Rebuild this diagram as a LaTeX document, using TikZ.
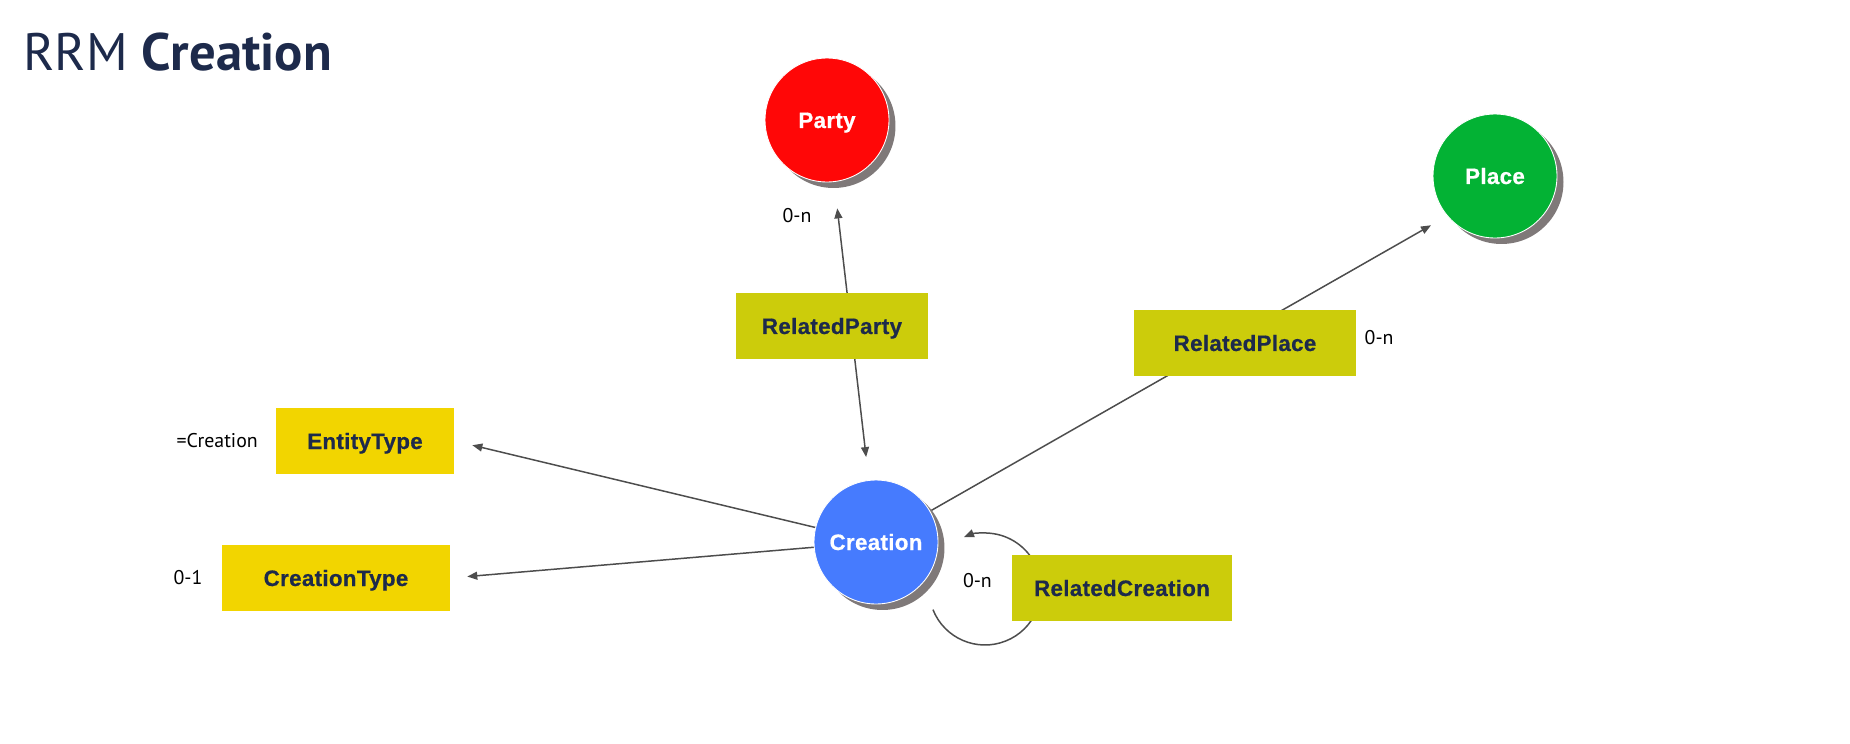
\documentclass[tikz,border=0pt]{standalone}
\usepackage{fontspec}
\setmainfont{PT Sans}
\newfontfamily\boxfont{Liberation Sans}[LetterSpace=1.5, BoldFeatures={FakeBold=0.6}]
\usetikzlibrary{positioning,arrows.meta,shadows,backgrounds}

\definecolor{partyred}{HTML}{FF0707}
\definecolor{placegreen}{HTML}{03B234}
\definecolor{creationblue}{HTML}{467BFE}
\definecolor{shadowgrey}{HTML}{7F7979}
\definecolor{relolive}{HTML}{CCCC0B}
\definecolor{typeyellow}{HTML}{F2D500}
\definecolor{rrmnavy}{HTML}{1D2A4B}
\definecolor{linegrey}{HTML}{4D4D4D}

\tikzset{
entity/.style={circle, minimum size=2.48cm, inner sep=0pt, outer sep=0pt, draw=white, line width=0.5pt, text=white,
  text height=9.1pt, text depth=0pt,
  font=\boxfont\bfseries\fontsize{12.7pt}{15pt}\selectfont,
  drop shadow={shadow xshift=0.13cm, shadow yshift=-0.12cm, opacity=1, fill=shadowgrey, draw=none}},
box/.style={rectangle, inner sep=0pt, text=rrmnavy, minimum height=1.31cm,
  text height=9.1pt, text depth=0pt,
  font=\boxfont\bfseries\fontsize{12.7pt}{15pt}\selectfont},
relbox/.style={box, fill=relolive},
typebox/.style={box, fill=typeyellow},
card/.style={inner sep=0pt, text=black, font=\fontsize{11.3pt}{13pt}\selectfont},
link/.style={draw=linegrey, line width=0.85pt, >={Triangle[length=5.7pt,width=4.5pt]}},
arrow/.style={link, ->}
}

\begin{document}
\begin{tikzpicture}[x=0.02cm, y=-0.02cm]
\useasboundingbox (0,0) rectangle (1850,744);

\node[anchor=base west, inner sep=0pt, text=rrmnavy, font=\fontsize{30pt}{36pt}\selectfont] (title) at (23,70) {RRM \textbf{Creation}};

% main entities
\node[entity, fill=partyred] (party) at (827,120) {Party};
\node[entity, fill=placegreen] (place) at (1495,176) {Place};
\node[entity, fill=creationblue] (creation) at (876,542) {Creation};

% relation boxes
\node[relbox, minimum width=3.86cm] (relparty) at (832,326) {RelatedParty};
\node[relbox, minimum width=4.44cm] (relplace) at (1245,343) {RelatedPlace};
\node[relbox, minimum width=4.42cm] (relcreation) at (1122,588) {RelatedCreation};
\node[typebox, minimum width=3.58cm] (enttype) at (365,441) {EntityType};
\node[typebox, minimum width=4.56cm] (crtype) at (336,578) {CreationType};

% cardinalities
\node[card] (partycard) at (797,216) {0-n};
\node[card, right=0.16cm of relplace, yshift=0.1cm] (placecard) {0-n};
\node[card, left=0.38cm of relcreation, yshift=0.14cm] (loopcard) {0-n};
\node[card, left=0.34cm of enttype] (entcard) {=Creation};
\node[card, left=0.38cm of crtype] (crcard) {0-1};

\begin{scope}[on background layer]
\draw[link, <->, shorten <=0.54cm, shorten >=0.47cm] (party) -- (creation);
\draw[arrow, shorten >=0.38cm] (creation) -- (place.220);
\draw[arrow, shorten >=0.36cm] (creation) -- (enttype.east);
\draw[arrow, shorten >=0.34cm] (creation) -- (crtype.east);
\coordinate (loopc) at (985,589);
\draw[arrow] ([shift={(201.6:1.12cm)}]loopc) arc[start angle=201.6, end angle=472, radius=1.12cm];
\end{scope}

\end{tikzpicture}
\end{document}
